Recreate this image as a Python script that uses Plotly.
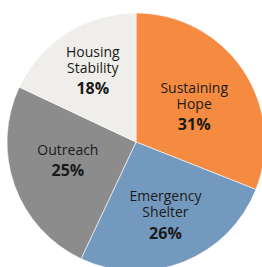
import math
import plotly.graph_objects as go

labels = ["Sustaining<br>Hope", "Emergency<br>Shelter", "Outreach", "Housing<br>Stability"]
values = [31, 26, 25, 18]
colors = ["#F58B40", "#7499BE", "#8C8C8C", "#F0EEEA"]

# small nudges (px) of each text block relative to Plotly's default inside position
label_nudge = {
    "Sustaining<br>Hope": (0.0, 4.5),
    "Emergency<br>Shelter": (2.5, 3.5),
    "Outreach": (3.0, -7.0),
    "Housing<br>Stability": (2.0, -1.0),
}

BASE = 4.1                 # base font size; one <br> step = 1.3 * BASE px
STEP = 1.3 * BASE
LABEL_SIZE = 14
PCT_SIZE = 16
ASC, DESC, SPACE_W = 1.069, 0.293, 0.26   # Open Sans metrics (em)
NB = "\u00a0"


def hpad(px):
    if px <= 0.2:
        return ""
    n = max(1, math.ceil(px / (SPACE_W * LABEL_SIZE)))
    f = px / (n * SPACE_W)
    return f"<span style='font-size:{f:.2f}px'>{NB * n}</span>"


def top_pad(e):
    if e <= 0.3:
        return ""
    for k in (3, 2, 1):
        f = (e - STEP * k + ASC * LABEL_SIZE) / ASC
        if f >= 1:
            break
    return f"<span style='font-size:{f:.2f}px'>{NB}</span>" + ("<br>" + NB) * (k - 1) + "<br>"


def bottom_pad(e):
    if e <= 0.3:
        return ""
    base_ext = DESC * PCT_SIZE
    k = 1
    while STEP * (k + 1) - base_ext + DESC * 1 <= e and k < 6:
        k += 1
    f = max(1.0, (e - (STEP * k - base_ext)) / DESC)
    return ("<br>" + NB) * (k - 1) + f"<br><span style='font-size:{f:.2f}px'>{NB}</span>"


def make_text(label, value):
    dx, dy = label_nudge.get(label, (0, 0))
    left = hpad(2 * dx)
    right = hpad(-2 * dx)
    lines = [f"{left}<span style='font-size:{LABEL_SIZE}px'>{s}</span>{right}" for s in label.split("<br>")]
    body = ("<br>" + NB) * 2 + "<br>"
    txt = body.join(lines)
    pct = f"{left}<span style='font-size:{PCT_SIZE}px'><b>{value}%</b></span>{right}"
    txt += ("<br>" + NB) * 3 + "<br>" + pct
    if dy > 0:
        txt = top_pad(2 * dy) + txt
    elif dy < 0:
        txt = txt + bottom_pad(-2 * dy)
    return txt


texts = [make_text(l, v) for l, v in zip(labels, values)]

fig = go.Figure(go.Pie(
    labels=labels,
    values=values,
    text=texts,
    textinfo="text",
    textposition="inside",
    insidetextorientation="horizontal",
    sort=False,
    direction="clockwise",
    rotation=0,
    marker=dict(colors=colors, line=dict(color="#FFFFFF", width=0.6)),
    textfont=dict(family="Open Sans", size=BASE, color="#1a1a1a"),
    hoverinfo="label+percent",
    showlegend=False,
))

fig.update_layout(
    width=265,
    height=271,
    margin=dict(l=7, r=0, t=13, b=0),
    paper_bgcolor="white",
    plot_bgcolor="white",
    uniformtext=dict(minsize=BASE, mode="show"),
)

fig.write_html("out.html", config={"displayModeBar": False},
               post_script="document.body.style.margin='0';document.body.style.overflow='hidden';")
